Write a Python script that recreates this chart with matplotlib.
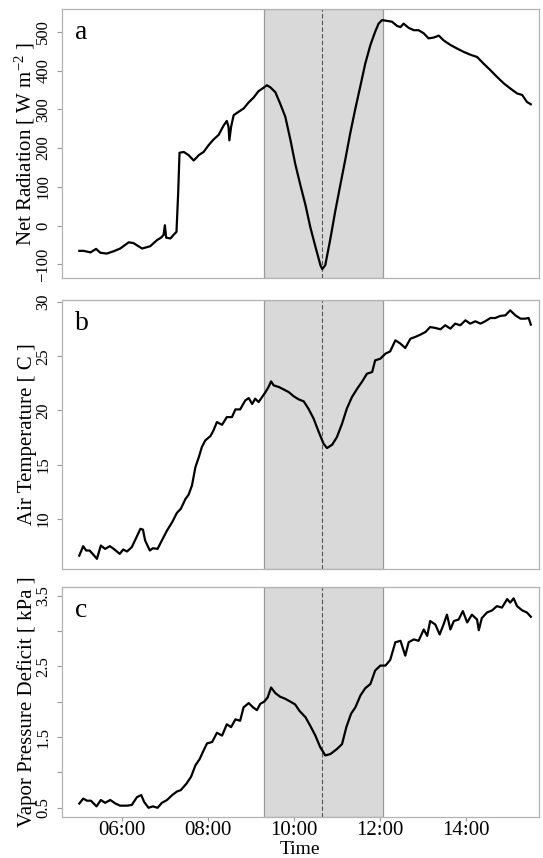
import matplotlib
matplotlib.use('Agg')
import matplotlib.pyplot as plt
from matplotlib.ticker import FuncFormatter

plt.rcParams['font.family'] = ['Liberation Serif', 'DejaVu Serif']
plt.rcParams['mathtext.fontset'] = 'custom'
plt.rcParams['mathtext.rm'] = 'Liberation Serif'
plt.rcParams['mathtext.it'] = 'Liberation Serif:italic'

# Time in decimal hours
rn_time = [5.00, 5.10, 5.26, 5.39, 5.49, 5.64, 5.80, 5.95, 6.15, 6.26,
           6.46, 6.65, 6.81, 6.90, 6.96, 6.99, 7.02, 7.12, 7.19, 7.26,
           7.30, 7.33, 7.43, 7.54, 7.66, 7.78, 7.89, 8.01, 8.12, 8.24,
           8.36, 8.43, 8.47, 8.49, 8.53, 8.59, 8.71, 8.82, 8.94, 9.05,
           9.17, 9.29, 9.36, 9.44, 9.56, 9.67, 9.79, 9.91, 10.02, 10.14,
           10.26, 10.37, 10.49, 10.61, 10.65, 10.72, 10.84, 10.95, 11.07, 11.19,
           11.30, 11.42, 11.54, 11.65, 11.77, 11.88, 11.96, 12.04, 12.16, 12.27,
           12.39, 12.47, 12.54, 12.66, 12.78, 12.89, 13.01, 13.12, 13.24, 13.36,
           13.47, 13.63, 13.78, 13.94, 14.09, 14.25, 14.40, 14.56, 14.71, 14.87,
           15.02, 15.18, 15.30, 15.41, 15.50]
net_rad = [-65, -65, -69, -60, -70, -72, -66, -59, -43, -45,
           -59, -53, -37, -31, -24, 1, -31, -33, -24, -16,
           87, 188, 190, 182, 168, 182, 190, 208, 222, 234,
           259, 270, 255, 220, 255, 285, 294, 302, 318, 330,
           347, 356, 362, 357, 344, 315, 281, 221, 160, 105,
           53, -3, -54, -103, -112, -102, -33, 36, 105, 173,
           238, 302, 362, 418, 466, 500, 521, 530, 528, 526,
           515, 512, 521, 510, 504, 504, 496, 483, 485, 490,
           478, 466, 457, 448, 441, 435, 418, 401, 384, 367,
           354, 341, 337, 319, 313]

ta_time = [5.00, 5.09, 5.16, 5.24, 5.31, 5.41, 5.50, 5.60, 5.71, 5.80,
           5.94, 6.02, 6.11, 6.22, 6.33, 6.42, 6.48, 6.53, 6.64, 6.71,
           6.82, 6.92, 7.04, 7.16, 7.27, 7.36, 7.47, 7.54, 7.62, 7.70,
           7.78, 7.85, 7.93, 8.05, 8.12, 8.20, 8.32, 8.43, 8.55, 8.63,
           8.74, 8.86, 8.94, 9.02, 9.09, 9.17, 9.25, 9.33, 9.40, 9.46,
           9.52, 9.64, 9.75, 9.87, 9.98, 10.10, 10.22, 10.33, 10.45, 10.57,
           10.68, 10.76, 10.88, 10.99, 11.11, 11.22, 11.34, 11.46, 11.57, 11.69,
           11.81, 11.88, 12.00, 12.12, 12.23, 12.35, 12.47, 12.58, 12.70, 12.81,
           12.93, 13.05, 13.16, 13.28, 13.40, 13.51, 13.63, 13.74, 13.86, 13.98,
           14.09, 14.21, 14.33, 14.44, 14.56, 14.67, 14.79, 14.91, 15.02, 15.14,
           15.26, 15.37, 15.45, 15.50]
air_temp = [6.6, 7.47, 7.07, 7.07, 6.76, 6.3, 7.53, 7.22, 7.47, 7.22,
            6.76, 7.16, 6.98, 7.38, 8.3, 9.07, 9.0, 8.0, 7.07, 7.28,
            7.22, 8.0, 8.92, 9.69, 10.55, 10.92, 11.84, 12.21, 13.08, 14.77,
            15.7, 16.62, 17.24, 17.64, 18.16, 18.93, 18.68, 19.39, 19.39, 20.1,
            20.1, 20.93, 21.15, 20.6, 21.09, 20.78, 21.24, 21.7, 22.17, 22.69,
            22.32, 22.17, 21.95, 21.7, 21.33, 21.03, 20.84, 20.16, 19.24, 18.0,
            16.93, 16.53, 16.84, 17.54, 18.78, 20.16, 21.24, 22.0, 22.63, 23.4,
            23.55, 24.63, 24.78, 25.25, 25.46, 26.48, 26.17, 25.77, 26.63, 26.79,
            27.0, 27.25, 27.71, 27.62, 27.5, 27.87, 27.56, 28.02, 27.87, 28.33,
            28.02, 28.24, 28.02, 28.24, 28.54, 28.54, 28.73, 28.79, 29.25, 28.79,
            28.48, 28.48, 28.54, 27.93]

vpd_time = [5.00, 5.09, 5.18, 5.27, 5.40, 5.50, 5.60, 5.72, 5.84, 5.95,
            6.11, 6.22, 6.34, 6.44, 6.51, 6.61, 6.71, 6.82, 6.92, 7.04,
            7.16, 7.27, 7.36, 7.49, 7.60, 7.70, 7.80, 7.89, 7.97, 8.09,
            8.20, 8.32, 8.43, 8.53, 8.63, 8.74, 8.82, 8.94, 9.04, 9.13,
            9.21, 9.30, 9.38, 9.46, 9.56, 9.67, 9.79, 9.91, 10.02, 10.12,
            10.26, 10.37, 10.49, 10.60, 10.72, 10.84, 10.99, 11.11, 11.21, 11.32,
            11.42, 11.54, 11.65, 11.77, 11.88, 12.00, 12.12, 12.23, 12.35, 12.47,
            12.58, 12.66, 12.78, 12.89, 13.01, 13.09, 13.16, 13.28, 13.38, 13.47,
            13.55, 13.63, 13.71, 13.82, 13.92, 14.02, 14.13, 14.25, 14.29, 14.36,
            14.48, 14.60, 14.71, 14.83, 14.95, 15.02, 15.10, 15.18, 15.30, 15.41,
            15.50]
vpd = [0.56, 0.63, 0.60, 0.60, 0.52, 0.61, 0.57, 0.61, 0.56, 0.53,
       0.53, 0.54, 0.65, 0.68, 0.58, 0.50, 0.52, 0.50, 0.57, 0.61,
       0.68, 0.73, 0.75, 0.84, 0.94, 1.10, 1.19, 1.31, 1.41, 1.43,
       1.56, 1.52, 1.68, 1.64, 1.75, 1.73, 1.92, 1.98, 1.92, 1.88,
       1.97, 2.00, 2.06, 2.20, 2.12, 2.07, 2.04, 2.00, 1.96, 1.87,
       1.78, 1.66, 1.52, 1.36, 1.24, 1.26, 1.33, 1.40, 1.64, 1.83,
       1.92, 2.09, 2.19, 2.25, 2.44, 2.51, 2.51, 2.59, 2.84, 2.86,
       2.65, 2.84, 2.88, 2.86, 3.02, 2.93, 3.14, 3.09, 2.95, 3.09,
       3.23, 3.02, 3.14, 3.16, 3.28, 3.12, 3.23, 3.16, 3.01, 3.18,
       3.26, 3.29, 3.35, 3.33, 3.45, 3.40, 3.46, 3.35, 3.29, 3.26,
       3.20]

eclipse_start = 9.30
eclipse_max = 10.64
eclipse_end = 12.07

x_ticks = [6, 8, 10, 12, 14]

fig = plt.figure(figsize=(5.43, 8.58), dpi=100)
left, width = 0.1136, 0.879
ax_a = fig.add_axes([left, 0.676, width, 0.3132])
ax_b = fig.add_axes([left, 0.3368, width, 0.3135])
ax_c = fig.add_axes([left, 0.0478, width, 0.268])

panels = [
    (ax_a, rn_time, net_rad, 'Net Radiation [ W m$^{-2}$ ]', 'a', (-135, 558)),
    (ax_b, ta_time, air_temp, 'Air Temperature [ C ]', 'b', (5.36, 30.2)),
    (ax_c, vpd_time, vpd, 'Vapor Pressure Deficit [ kPa ]', 'c', (0.37, 3.62)),
]

for ax, t, v, ylab, letter, ylim in panels:
    ax.axvspan(eclipse_start, eclipse_end, facecolor='#d9d9d9',
               edgecolor='#9a9a9a', linewidth=0.9, zorder=0)
    ax.axvline(eclipse_max, color='#555555', linestyle=(0, (4, 2)), linewidth=0.8, zorder=1)
    ax.plot(t, v, color='black', linewidth=1.6, zorder=3)
    ax.set_xlim(4.59, 15.69)
    ax.set_ylim(*ylim)
    for s in ax.spines.values():
        s.set_color('#b3b3b3')
        s.set_linewidth(0.9)
    ax.tick_params(axis='y', direction='out', length=3.5, color='#999999',
                   labelsize=12, pad=4)
    ax.set_ylabel(ylab, fontsize=15)
    ax.yaxis.set_label_coords(-0.052, 0.5)
    ax.annotate(letter, xy=(0, 1), xycoords='axes fraction',
                xytext=(13, -30), textcoords='offset pixels', fontsize=20)
    ax.set_xticks(x_ticks)
    ax.xaxis.set_major_formatter(FuncFormatter(lambda x, p: '%02d:00' % int(round(x))))

ax_a.set_yticks([-100, 0, 100, 200, 300, 400, 500])
ax_b.set_yticks([10, 15, 20, 25, 30])
ax_c.set_yticks([0.5, 1.0, 1.5, 2.0, 2.5, 3.0, 3.5])
ax_c.set_yticklabels(['0.5', '', '1.5', '', '2.5', '', '3.5'])

for ax in (ax_a, ax_b, ax_c):
    for lab in ax.get_yticklabels():
        lab.set_rotation(90)
        lab.set_va('center')

for ax in (ax_a, ax_b):
    ax.tick_params(axis='x', length=0, labelbottom=False)

ax_c.tick_params(axis='x', direction='out', length=3, color='#999999',
                 labelsize=15, pad=0)
# x label sits flush with the bottom edge, centred under the axes
fig.text(left + width / 2, 0.0, 'Time', fontsize=14, ha='center', va='bottom')

fig.savefig('out.png', dpi=100)
